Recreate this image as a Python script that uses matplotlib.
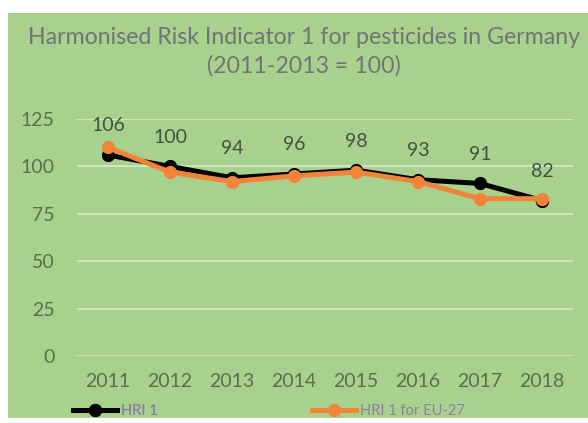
import matplotlib
matplotlib.use("Agg")
import matplotlib.pyplot as plt
from matplotlib.patches import Rectangle

# data
years = ["2011", "2012", "2013", "2014", "2015", "2016", "2017", "2018"]
hri1_de = [106, 100, 94, 96, 98, 93, 91, 82]
hri1_eu27 = [110, 97, 92, 95, 97, 92, 83, 83]
y_ticks = [0, 25, 50, 75, 100, 125]

BG_GREEN = "#a9d18e"
GRID_COLOR = "#d6e8cb"
TICK_COLOR = "#56704f"
LABEL_COLOR = "#42523f"
TITLE_COLOR = "#6f7474"
LEGEND_TEXT = "#8a7fa3"
ORANGE = "#f2843a"

plt.rcParams["font.family"] = ["Lato", "DejaVu Sans"]

fig = plt.figure(figsize=(5.88, 4.23), dpi=100)
fig.patch.set_facecolor("white")
# green panel behind everything, with the thin white margin of the reference
fig.patches.append(Rectangle((8 / 588, 1 - 418 / 423), 580 / 588, 405 / 423,
                             transform=fig.transFigure, facecolor=BG_GREEN,
                             edgecolor="none", zorder=-10))

ax = fig.add_axes([77 / 588, 1 - 356 / 423, 496 / 588, 237 / 423])
ax.set_facecolor("none")

x = list(range(len(years)))
ax.plot(x, hri1_de, color="black", lw=3.6, marker="o", ms=8.5, zorder=3, label="HRI 1")
ax.plot(x, hri1_eu27, color=ORANGE, lw=3.6, marker="o", ms=8.5, zorder=4, label="HRI 1 for EU-27")

for xi, v in zip(x, hri1_de):
    ax.annotate(str(v), (xi, v), xytext=(0, 21), textcoords="offset points",
                ha="center", va="center", fontsize=14, color=LABEL_COLOR,
                annotation_clip=False)

ax.set_xlim(-0.5, len(years) - 0.5)
ax.set_ylim(0, 125)
ax.set_yticks(y_ticks)
ax.set_xticks(x)
ax.set_xticklabels(years)
ax.yaxis.grid(True, color=GRID_COLOR, lw=1.3)
ax.set_axisbelow(True)
for s in ax.spines.values():
    s.set_visible(False)
ax.tick_params(length=0, labelsize=14, labelcolor=TICK_COLOR)
ax.tick_params(axis="y", pad=16)
ax.tick_params(axis="x", pad=12)

fig.text(304 / 588, 1 - 37 / 423, "Harmonised Risk Indicator 1 for pesticides in Germany",
         ha="center", va="center", fontsize=16.7, color=TITLE_COLOR)
fig.text(304 / 588, 1 - 66 / 423, "(2011-2013 = 100)",
         ha="center", va="center", fontsize=16.7, color=TITLE_COLOR)

h_de, h_eu = ax.get_lines()
leg_kw = dict(frameon=False, fontsize=10.5, labelcolor=LEGEND_TEXT, handlelength=3.0,
              handletextpad=0.3, borderpad=0, borderaxespad=0, loc="center left")
leg1 = fig.legend([h_de], ["HRI 1"], bbox_to_anchor=(73 / 588, 1 - 411 / 423), **leg_kw)
fig.add_artist(leg1)
fig.legend([h_eu], ["HRI 1 for EU-27"], bbox_to_anchor=(312 / 588, 1 - 411 / 423), **leg_kw)

fig.savefig("out.png", dpi=100)
